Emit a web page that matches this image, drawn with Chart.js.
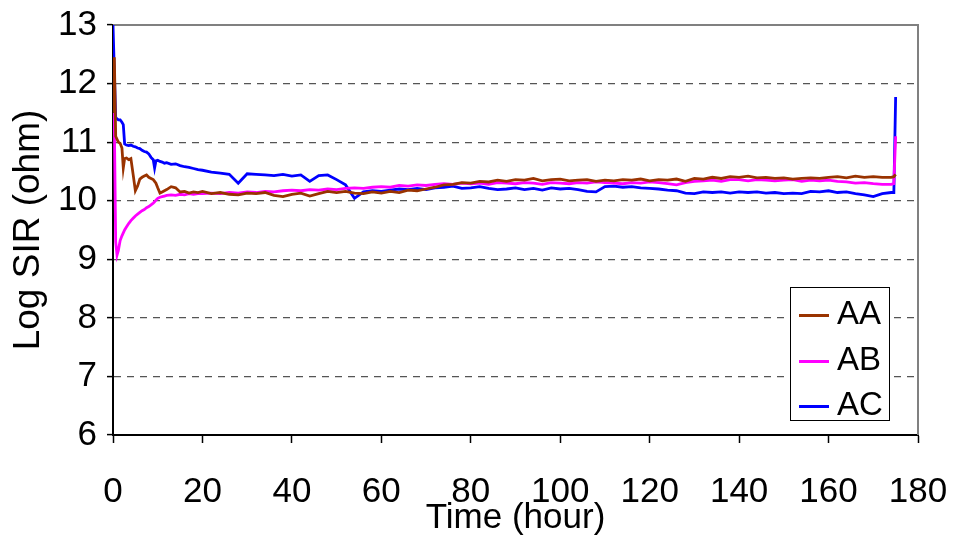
<!DOCTYPE html>
<html>
<head>
<meta charset="utf-8">
<script src="https://cdn.jsdelivr.net/npm/chart.js@4"></script>
<style>
  html, body { margin: 0; padding: 0; background: #fff; }
  #wrap { position: relative; width: 953px; height: 535px; }
  #legend {
    position: absolute; left: 790px; top: 287px; width: 100px; height: 134px;
    border: 1px solid #000; background: #fff; box-sizing: border-box;
    font-family: "Liberation Sans", Arial, sans-serif; font-size: 33px; color: #000;
  }
  #legend .row { position: absolute; left: 8px; height: 40px; line-height: 40px; white-space: nowrap; }
  #legend .swatch { display: inline-block; width: 30px; height: 3px; vertical-align: middle; margin-right: 8px; }
</style>
</head>
<body>
<div id="wrap">
  <canvas id="chart" width="953" height="535"></canvas>
  <div id="legend"></div>
</div>
<script>
// ====== DATA ======
const hours = [
  0, 0.3, 0.6, 0.9, 1.2, 1.6, 2.0, 2.3, 2.6, 3.0, 3.5, 4.0, 4.5, 5.0, 5.5, 6.0, 6.5, 7.0,
  7.5, 8.0, 8.5, 9.0, 9.3, 9.6, 10.0, 10.5, 11, 11.5, 12, 13, 14, 15, 16, 17, 18, 19,
  20, 22, 24, 26, 28, 30, 32, 34, 36, 38,
  40, 42, 44, 46, 48, 50, 52, 54, 56, 58,
  60, 62, 64, 66, 68, 70, 72, 74, 76, 78,
  80, 82, 84, 86, 88, 90, 92, 94, 96, 98,
  100, 102, 104, 106, 108, 110, 112, 114, 116, 118,
  120, 122, 124, 126, 128, 130, 132, 134, 136, 138,
  140, 142, 144, 146, 148, 150, 152, 154, 156, 158,
  160, 162, 164, 166, 168, 170, 172, 174, 174.6, 175
];

const seriesAA = [
  11.5, 12.45, 11.1, 11.05, 11.0, 10.98, 10.9, 10.56, 10.72, 10.73, 10.70, 10.72, 10.45, 10.17, 10.25, 10.37, 10.40, 10.42,
  10.44, 10.40, 10.38, 10.36, 10.33, 10.30, 10.22, 10.13, 10.15, 10.17, 10.19, 10.24, 10.22, 10.15, 10.16, 10.13, 10.15, 10.14,
  10.16, 10.12, 10.14, 10.11, 10.10, 10.13, 10.12, 10.14, 10.09, 10.07,
  10.11, 10.13, 10.08, 10.12, 10.16, 10.14, 10.16, 10.13, 10.12, 10.15,
  10.13, 10.16, 10.14, 10.18, 10.17, 10.20, 10.23, 10.27, 10.28, 10.31,
  10.30, 10.33, 10.32, 10.35, 10.33, 10.36, 10.35, 10.38, 10.34, 10.36,
  10.37, 10.34, 10.35, 10.36, 10.33, 10.35, 10.34, 10.36, 10.35, 10.37,
  10.34, 10.36, 10.35, 10.37, 10.33, 10.38, 10.37, 10.40, 10.38, 10.41,
  10.40, 10.42, 10.39, 10.40, 10.38, 10.39, 10.37, 10.38, 10.39, 10.38,
  10.40, 10.41, 10.39, 10.42, 10.40, 10.41, 10.40, 10.40, 10.41, 10.45
];

const seriesAB = [
  11.5, 11.3, 9.3, 9.07, 9.15, 9.32, 9.40, 9.45, 9.50, 9.55, 9.61, 9.66, 9.70, 9.74, 9.77, 9.80, 9.83, 9.85,
  9.88, 9.90, 9.93, 9.96, 9.98, 10.01, 10.04, 10.06, 10.07, 10.08, 10.09, 10.10, 10.09, 10.11, 10.10, 10.12, 10.11, 10.12,
  10.12, 10.13, 10.12, 10.14, 10.13, 10.15, 10.14, 10.16, 10.15, 10.17,
  10.18, 10.17, 10.19, 10.18, 10.20, 10.19, 10.21, 10.22, 10.21, 10.23,
  10.24, 10.23, 10.26, 10.25, 10.27, 10.26, 10.28, 10.29, 10.28, 10.30,
  10.29, 10.30, 10.28, 10.31, 10.30, 10.29, 10.31, 10.30, 10.28, 10.31,
  10.30, 10.29, 10.31, 10.30, 10.32, 10.31, 10.30, 10.29, 10.31, 10.30,
  10.32, 10.31, 10.29, 10.27, 10.31, 10.33, 10.34, 10.35, 10.33, 10.36,
  10.36, 10.34, 10.36, 10.35, 10.34, 10.35, 10.36, 10.33, 10.35, 10.34,
  10.35, 10.33, 10.32, 10.30, 10.31, 10.29, 10.28, 10.28, 10.29, 11.1
];

const seriesAC = [
  13.0, 12.2, 11.42, 11.40, 11.38, 11.38, 11.34, 11.30, 10.97, 10.95, 10.94, 10.95, 10.93, 10.92, 10.90, 10.89, 10.86, 10.84,
  10.83, 10.80, 10.74, 10.70, 10.56, 10.68, 10.69, 10.67, 10.66, 10.64, 10.65, 10.62, 10.63, 10.60, 10.58, 10.57, 10.55, 10.53,
  10.52, 10.49, 10.47, 10.45, 10.30, 10.46, 10.45, 10.44, 10.43, 10.45,
  10.42, 10.44, 10.33, 10.43, 10.44, 10.36, 10.27, 10.04, 10.15, 10.17,
  10.16, 10.18, 10.20, 10.19, 10.21, 10.19, 10.22, 10.23, 10.25, 10.21,
  10.22, 10.24, 10.21, 10.19, 10.20, 10.22, 10.19, 10.21, 10.18, 10.22,
  10.20, 10.21, 10.19, 10.16, 10.15, 10.24, 10.25, 10.23, 10.24, 10.22,
  10.21, 10.20, 10.18, 10.17, 10.13, 10.12, 10.15, 10.14, 10.15, 10.13,
  10.15, 10.14, 10.15, 10.13, 10.14, 10.12, 10.13, 10.12, 10.16, 10.15,
  10.17, 10.14, 10.15, 10.12, 10.10, 10.07, 10.12, 10.14, 10.14, 11.77
];

const seriesNames = ["AA", "AB", "AC"];
const seriesColors = ["#993300", "#FF00FF", "#0000FF"];
const xTicks = [0, 20, 40, 60, 80, 100, 120, 140, 160, 180];
const yTicks = [6, 7, 8, 9, 10, 11, 12, 13];

// ====== CHART ======
const FONT = "'Liberation Sans', Arial, sans-serif";

function toPoints(vals) {
  return hours.map((h, i) => ({ x: h, y: vals[i] }));
}

// gray plot-area frame on top and right, like the original
const framePlugin = {
  id: 'frame',
  beforeDatasetsDraw(chart) {
    const { ctx, chartArea: a } = chart;
    ctx.save();
    ctx.strokeStyle = '#808080';
    ctx.lineWidth = 2;
    ctx.beginPath();
    ctx.moveTo(a.left, a.top);
    ctx.lineTo(a.right, a.top);
    ctx.lineTo(a.right, a.bottom);
    ctx.stroke();
    ctx.restore();
  }
};

const chart = new Chart(document.getElementById('chart'), {
  type: 'line',
  data: {
    datasets: [seriesAA, seriesAB, seriesAC].map((vals, i) => ({
      label: seriesNames[i],
      data: toPoints(vals),
      borderColor: seriesColors[i],
      borderWidth: 2.8,
      pointRadius: 0,
      tension: 0,
      fill: false
    }))
  },
  options: {
    responsive: false,
    animation: false,
    layout: { padding: { left: 0, top: 25, right: 35, bottom: 0 } },
    plugins: { legend: { display: false }, tooltip: { enabled: false } },
    scales: {
      x: {
        type: 'linear',
        min: 0, max: 180,
        afterFit: s => { s.height = 100; s.paddingLeft = 0; s.paddingRight = 0; },
        afterBuildTicks: s => { s.ticks = xTicks.map(v => ({ value: v })); },
        ticks: { font: { family: FONT, size: 35 }, color: '#000', padding: 28, maxRotation: 0 },
        grid: { drawOnChartArea: false, tickLength: 8, tickColor: '#000', tickWidth: 1.5 },
        border: { color: '#000', width: 2 },
        title: { display: true, text: 'Time (hour)', font: { family: FONT, size: 35 }, color: '#000', padding: { top: 0, bottom: -4 } }
      },
      y: {
        min: 6, max: 13,
        afterFit: s => { s.width = 113; s.paddingTop = 0; s.paddingBottom = 0; },
        afterBuildTicks: s => { s.ticks = yTicks.map(v => ({ value: v })); },
        ticks: { font: { family: FONT, size: 35 }, color: '#000', padding: 10 },
        grid: { color: '#555', lineWidth: 1.2, tickLength: 6, tickColor: '#000', tickWidth: 1.5 },
        border: { color: '#000', width: 2, dash: [7, 6] },
        title: { display: true, text: 'Log SIR (ohm)', font: { family: FONT, size: 37 }, color: '#000', padding: { top: 7, bottom: 0 } }
      }
    }
  },
  plugins: [framePlugin]
});

// ====== LEGEND ======
const legend = document.getElementById('legend');
const rowTops = [5, 51, 96];
seriesNames.forEach((name, i) => {
  const row = document.createElement('div');
  row.className = 'row';
  row.style.top = rowTops[i] + 'px';
  row.innerHTML = '<span class="swatch" style="background:' + seriesColors[i] + '"></span>' + name;
  legend.appendChild(row);
});
</script>
</body>
</html>
